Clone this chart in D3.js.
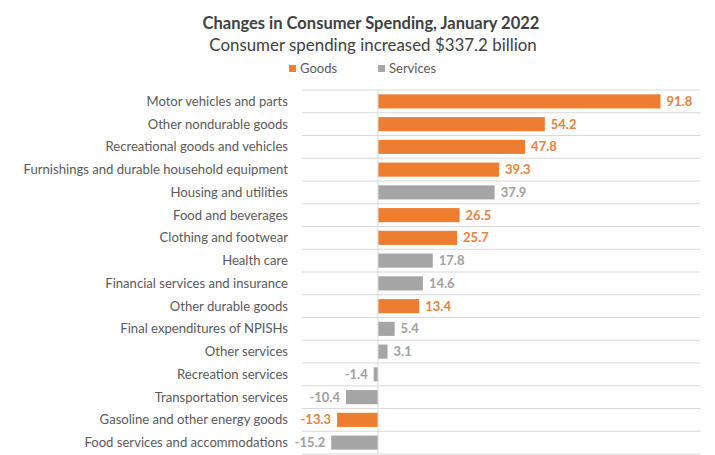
<!DOCTYPE html>
<html><head><meta charset="utf-8">
<script src="https://cdn.jsdelivr.net/npm/d3@7/dist/d3.min.js"></script>
<style>
body{margin:0;background:#fff;}
svg text{font-family:Lato,"Open Sans",sans-serif;}
</style></head>
<body><svg id="c" width="715" height="455"></svg>
<script>
const categories = ["Motor vehicles and parts","Other nondurable goods","Recreational goods and vehicles","Furnishings and durable household equipment","Housing and utilities","Food and beverages","Clothing and footwear","Health care","Financial services and insurance","Other durable goods","Final expenditures of NPISHs","Other services","Recreation services","Transportation services","Gasoline and other energy goods","Food services and accommodations"];
const values = [91.8,54.2,47.8,39.3,37.9,26.5,25.7,17.8,14.6,13.4,5.4,3.1,-1.4,-10.4,-13.3,-15.2];
const types = ["Goods","Goods","Goods","Goods","Services","Goods","Goods","Services","Services","Goods","Services","Services","Services","Services","Goods","Services"];
const seriesNames = ["Goods","Services"];
const title = "Changes in Consumer Spending, January 2022";
const subtitle = "Consumer spending increased $337.2 billion";

const color = d3.scaleOrdinal().domain(seriesNames).range(["#ED7D31","#A5A5A5"]);
const labelColor = d3.scaleOrdinal().domain(seriesNames).range(["#E8823E","#A0A0A0"]);
const svg = d3.select("#c");
const x = d3.scaleLinear().domain([-24.7,104.8]).range([302,700.5]);
const y = d3.scaleBand().domain(categories).range([90,454]).paddingInner(0.38).paddingOuter(0.19);
const rows = categories.map((c,i)=>({c,v:values[i],t:types[i]}));

svg.append("text").attr("x",371).attr("y",29).attr("text-anchor","middle")
  .attr("font-size",16.5).attr("font-weight","bold").attr("fill","#404040").text(title);
svg.append("text").attr("x",373).attr("y",51).attr("text-anchor","middle")
  .attr("font-size",16.9).attr("fill","#404040").text(subtitle);

const leg = svg.append("g");
const legX = [289,378];
seriesNames.forEach((s,i)=>{
  leg.append("rect").attr("x",legX[i]).attr("y",65).attr("width",7).attr("height",7).attr("fill",color(s));
  leg.append("text").attr("x",legX[i]+11).attr("y",72.5).attr("font-size",13).attr("fill","#595959").text(s);
});

svg.append("g").selectAll("line").data(d3.range(categories.length+1)).join("line")
  .attr("x1",x.range()[0]).attr("x2",x.range()[1])
  .attr("y1",i=>90+i*y.step()).attr("y2",i=>90+i*y.step())
  .attr("stroke","#D9D9D9").attr("stroke-width",1);

svg.append("g").selectAll("rect").data(rows).join("rect")
  .attr("x",d=>x(Math.min(0,d.v))).attr("width",d=>Math.abs(x(d.v)-x(0)))
  .attr("y",d=>y(d.c)).attr("height",y.bandwidth()).attr("fill",d=>color(d.t));

svg.append("line").attr("x1",x(0)).attr("x2",x(0)).attr("y1",90).attr("y2",454)
  .attr("stroke","#D9D9D9").attr("stroke-width",1);

svg.append("g").selectAll("text").data(rows).join("text")
  .attr("x",288).attr("y",d=>y(d.c)+y.bandwidth()/2).attr("dy","0.35em")
  .attr("text-anchor","end").attr("font-size",13.1).attr("fill","#595959").text(d=>d.c);

svg.append("g").selectAll("text").data(rows).join("text")
  .attr("x",d=>d.v>=0?x(d.v)+6:x(d.v)-6)
  .attr("y",d=>y(d.c)+y.bandwidth()/2).attr("dy","0.35em")
  .attr("text-anchor",d=>d.v>=0?"start":"end")
  .attr("font-size",13).attr("font-weight","bold").attr("fill",d=>labelColor(d.t))
  .text(d=>d.v.toFixed(1));
</script></body></html>
